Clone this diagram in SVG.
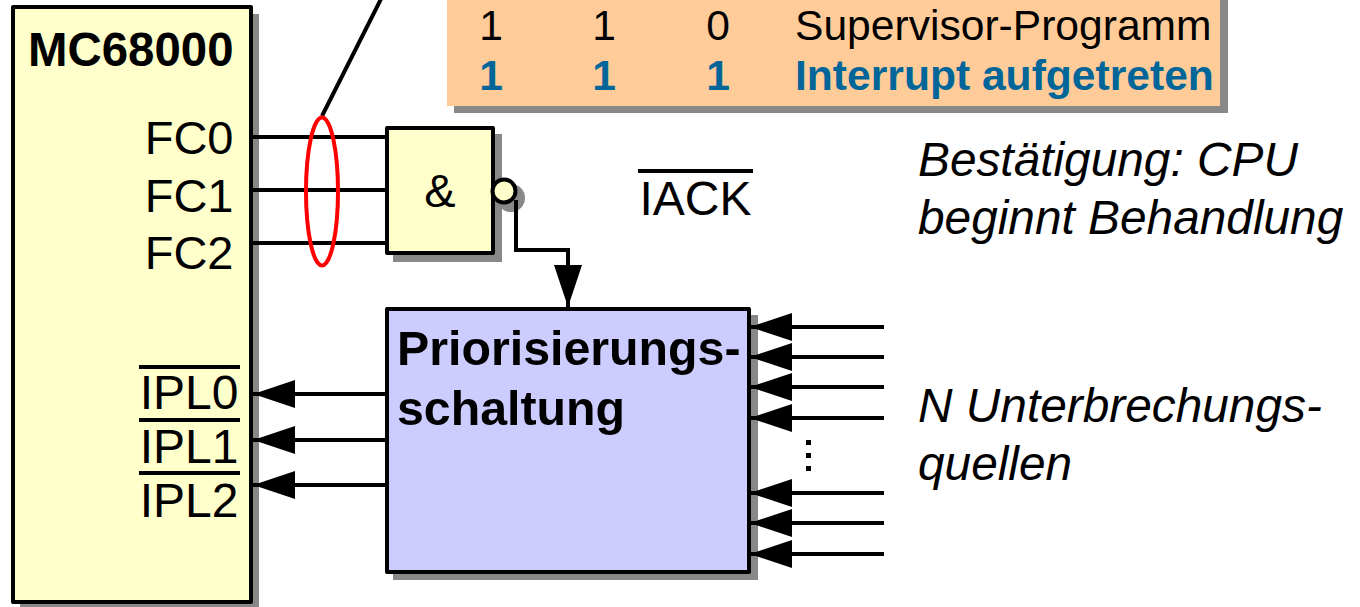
<svg xmlns="http://www.w3.org/2000/svg" width="1360" height="607" viewBox="0 0 1360 607">
<style>
text{font-family:"Liberation Sans",Arial,sans-serif;fill:#000}
.s{fill:#888}
.b{stroke:#000;stroke-width:4;stroke-linejoin:round}
.y{fill:#ffc}
.w{fill:none;stroke:#000;stroke-width:4}
.l{font-size:47px}
.k{font-size:48px}
.r{text-anchor:end}
.i{font-size:47.8px;font-style:italic}
.o{stroke:#000;stroke-width:4}
.t{font-size:42.6px}
.bl{font-size:42.6px;font-weight:bold;fill:#069}
.p{font-size:48.3px;font-weight:bold}
</style>
<defs>
<marker id="a" markerUnits="userSpaceOnUse" markerWidth="42" markerHeight="30" refX="42" refY="14" orient="auto"><path d="M0 0L42 14L0 28Z" fill="#000"/></marker>
</defs>
<rect width="1360" height="607" fill="#fff"/>
<g id="table">
<rect class="s" x="454" y="-10" width="774" height="123"/>
<rect x="447" y="-10" width="773" height="116" fill="#fc9"/>
<text class="t" x="491" y="39.5" text-anchor="middle">1</text>
<text class="t" x="604" y="39.5" text-anchor="middle">1</text>
<text class="t" x="718" y="39.5" text-anchor="middle">0</text>
<text class="t" x="795" y="39.5">Supervisor-Programm</text>
<text class="bl" x="491" y="90" text-anchor="middle">1</text>
<text class="bl" x="604" y="90" text-anchor="middle">1</text>
<text class="bl" x="718" y="90" text-anchor="middle">1</text>
<text class="bl" x="795" y="90">Interrupt aufgetreten</text>
</g>
<g id="mc68000">
<rect class="s" x="20" y="14" width="239" height="593"/>
<rect class="b y" x="13" y="7" width="238" height="595"/>
<text x="233.5" y="66" class="r" font-size="47.4" font-weight="bold">MC68000</text>
<text class="l r" x="233.5" y="154">FC0</text>
<text class="l r" x="233.5" y="212">FC1</text>
<text class="l r" x="233.5" y="269">FC2</text>
<text class="k r" x="238.5" y="409">IPL0</text>
<text class="k r" x="238.5" y="463">IPL1</text>
<text class="k r" x="238.5" y="517">IPL2</text>
<path class="o" d="M139 367H240M139 420H240M139 473H240" fill="none"/>
</g>
<g id="and-gate">
<rect class="s" x="393" y="134" width="109" height="128"/>
<circle class="s" cx="511" cy="198" r="14"/>
<rect class="b y" x="387" y="128" width="106" height="125"/>
<text x="440" y="207" font-size="47" text-anchor="middle">&amp;</text>
<circle cx="504" cy="191" r="11.5" fill="#ffc" stroke="#000" stroke-width="4"/>
</g>
<g id="priorisierung">
<rect class="s" x="393" y="315" width="365" height="265"/>
<rect class="b" x="387" y="309" width="362" height="263" fill="#ccf"/>
<text class="p" x="397" y="365">Priorisierungs-</text>
<text class="p" x="397" y="425">schaltung</text>
</g>
<g id="connectors">
<path class="w" d="M383 -5L322 116M251 137H387M251 190H387M251 243H387"/>
<ellipse cx="322" cy="191.5" rx="16" ry="74" fill="none" stroke="#f00" stroke-width="4"/>
<path class="w" d="M516 200V250H568V307" marker-end="url(#a)"/>
<path class="w" d="M387 394H253" marker-end="url(#a)"/>
<path class="w" d="M387 440H253" marker-end="url(#a)"/>
<path class="w" d="M387 485H253" marker-end="url(#a)"/>
<path class="w" d="M884 327H750" marker-end="url(#a)"/>
<path class="w" d="M884 357H750" marker-end="url(#a)"/>
<path class="w" d="M884 387H750" marker-end="url(#a)"/>
<path class="w" d="M884 418H750" marker-end="url(#a)"/>
<path class="w" d="M884 493H750" marker-end="url(#a)"/>
<path class="w" d="M884 523H750" marker-end="url(#a)"/>
<path class="w" d="M884 554H750" marker-end="url(#a)"/>
<path d="M806 440h5v5h-5zM806 453h5v5h-5zM806 466h5v5h-5z"/>
</g>
<g id="labels">
<path class="o" d="M638 171H753" fill="none"/>
<text x="695.5" y="215" class="k" text-anchor="middle">IACK</text>
<text class="i" x="918" y="176">Bestätigung: CPU</text>
<text class="i" x="918" y="234">beginnt Behandlung</text>
<text class="i" x="918" y="422">N Unterbrechungs-</text>
<text class="i" x="918" y="480">quellen</text>
</g>
</svg>
